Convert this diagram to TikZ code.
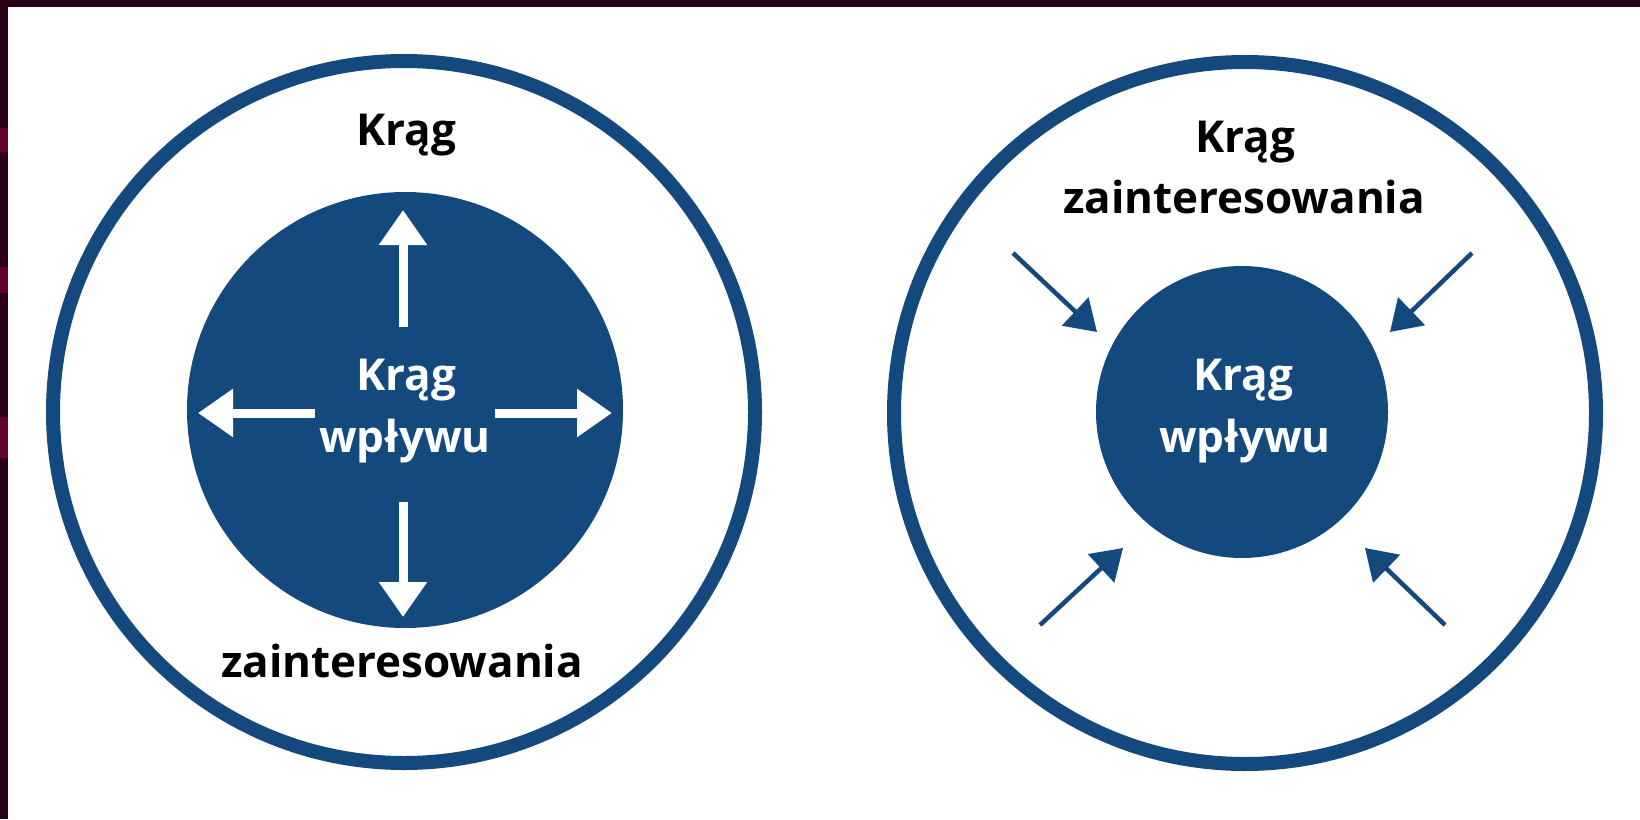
\documentclass[tikz,border=0pt]{standalone}
\usepackage{fontspec}
\setmainfont{Open Sans}
\usetikzlibrary{arrows.meta}
\definecolor{circleblue}{HTML}{13497D}
\definecolor{frameplum}{HTML}{2A0016}
\definecolor{framewine}{HTML}{62002F}
\begin{document}
\begin{tikzpicture}
[x=1pt,y=-1pt,%
  ringdecorate/.style={shape=circle,draw=circleblue,line width=14pt,inner sep=0pt},%
  diskdecorate/.style={shape=circle,fill=circleblue,inner sep=0pt},%
  labeldecorate/.style={anchor=base,inner sep=0pt,font=\fontsize{44}{62}\selectfont\bfseries},%
  whitearrowdecorate/.style={-{Triangle[length=35pt,width=46pt]},draw=white,line width=9pt},%
  bluearrowdecorate/.style={-{Triangle[length=30pt,width=38pt]},draw=circleblue,line width=4.5pt}]
%% page and frame
\fill[white] (0,0) rectangle (1640,819);
\useasboundingbox (0,0) rectangle (1640,819);
\fill[frameplum] (0,0) rectangle (8,819);
\foreach \ytop/\ybot in {128/152, 267/293, 417/458} {
  \fill[framewine] (0,\ytop) rectangle (8,\ybot);
}
\shade[left color=frameplum,middle color=framewine,right color=frameplum] (0,0) rectangle (1640,6);
%% outer rings
\foreach \nodename/\x/\y in {louter/404/412, router/1245/413} {
  \node (\nodename) at (\x,\y) [ringdecorate,minimum size=702pt] {};
}
%% inner disks
\foreach \nodename/\x/\y/\size in {linner/405/410/436, rinner/1242/412/292} {
  \node (\nodename) at (\x,\y) [diskdecorate,minimum size=\size pt] {};
}
%% labels
\foreach \nodename/\x/\y/\colour/\word in {
ltop/406/145/black/Krąg, lbottom/402/677/black/zainteresowania,
lmidone/406/390/white/Krąg, lmidtwo/405/452/white/wpływu,
rtopone/1245/152/black/Krąg, rtoptwo/1244/213/black/zainteresowania,
rmidone/1243/390/white/Krąg, rmidtwo/1245/452/white/wpływu}
{
  \node (\nodename) at (\x,\y) [labeldecorate,text=\colour] {\word};
}
%% arrow end points
\foreach \nodename/\x/\y in {
upfrom/403/327, upto/403/210, downfrom/403/502, downto/403/617,
leftfrom/315/413, leftto/198/413, rightfrom/495/413, rightto/612/413,
nwfrom/1013/253, nwto/1097/332, nefrom/1472/253, neto/1390/332,
swfrom/1040/625, swto/1123/548, sefrom/1445/625, seto/1365/548}
{
  \coordinate (\nodename) at (\x,\y);
}
%% arrows
\path
\foreach \startnode/\endnode in {upfrom/upto, downfrom/downto, leftfrom/leftto, rightfrom/rightto}
{
  (\startnode) edge[whitearrowdecorate] (\endnode)
};
\path
\foreach \startnode/\endnode in {nwfrom/nwto, nefrom/neto, swfrom/swto, sefrom/seto}
{
  (\startnode) edge[bluearrowdecorate] (\endnode)
};
\end{tikzpicture}
\end{document}
